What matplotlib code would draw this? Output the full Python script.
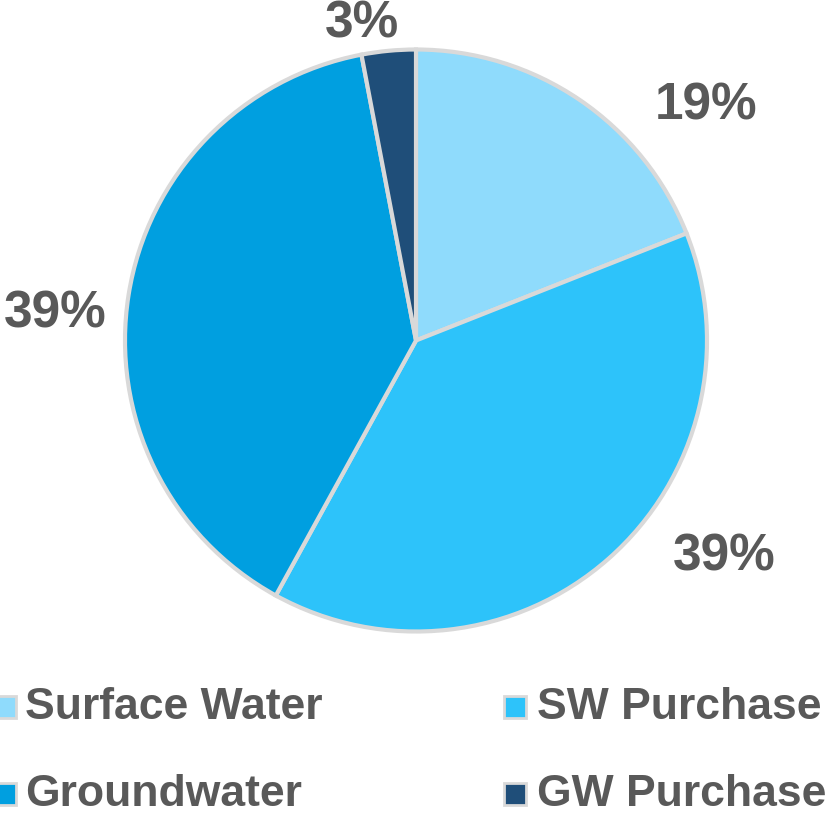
import matplotlib
matplotlib.use("Agg")
import matplotlib.pyplot as plt
from matplotlib.patches import Rectangle

# data
categories = ["Surface Water", "SW Purchase", "Groundwater", "GW Purchase"]
shares = [19, 39, 39, 3]
pct_labels = ["19%", "39%", "39%", "3%"]

COLORS = ["#8FDBFC", "#2DC3FA", "#009FE0", "#1F4E79"]
EDGE = "#D9D9D9"
TEXT = "#595959"

# label baselines in radius units (layout only)
LABEL_POS = [(0.997, 0.758), (1.058, -0.789), (-1.241, 0.046), (-0.186, 1.040)]

# legend layout in pixels: (square centre x, text left x, baseline y from top)
LEG_POS = [(4.5, 25, 719), (514.5, 537, 719), (4.5, 25, 806), (514.5, 537, 806)]

plt.rcParams["font.family"] = ["Liberation Sans", "DejaVu Sans"]

W, H = 831, 816
fig = plt.figure(figsize=(W / 100, H / 100), dpi=100)
cx, cy, r = 416, 340.5, 291
ax = fig.add_axes([(cx - r) / W, (H - cy - r) / H, 2 * r / W, 2 * r / H])

wedges, _ = ax.pie(
    shares,
    colors=COLORS,
    startangle=90,
    counterclock=False,
    radius=1.0,
    wedgeprops={"edgecolor": EDGE, "linewidth": 3},
)
ax.set_xlim(-1.0, 1.0)
ax.set_ylim(-1.0, 1.0)
ax.set_aspect("equal")
ax.axis("off")

for txt, (x, y) in zip(pct_labels, LABEL_POS):
    ax.text(x, y, txt, ha="center", va="baseline", fontsize=37,
            fontweight="bold", color=TEXT, clip_on=False)

# legend drawn by hand so it can sit flush with the left edge like the original
sq = 22
for name, color, (sx, tx, by) in zip(categories, COLORS, LEG_POS):
    yc = by - 12
    fig.add_artist(Rectangle(((sx - sq / 2) / W, (H - yc - sq / 2) / H), sq / W, sq / H,
                             transform=fig.transFigure, facecolor=color,
                             edgecolor=EDGE, linewidth=2))
    fig.text(tx / W, (H - by) / H, name, ha="left", va="baseline",
             fontsize=32, fontweight="bold", color=TEXT)

fig.savefig("out.png", dpi=100)
